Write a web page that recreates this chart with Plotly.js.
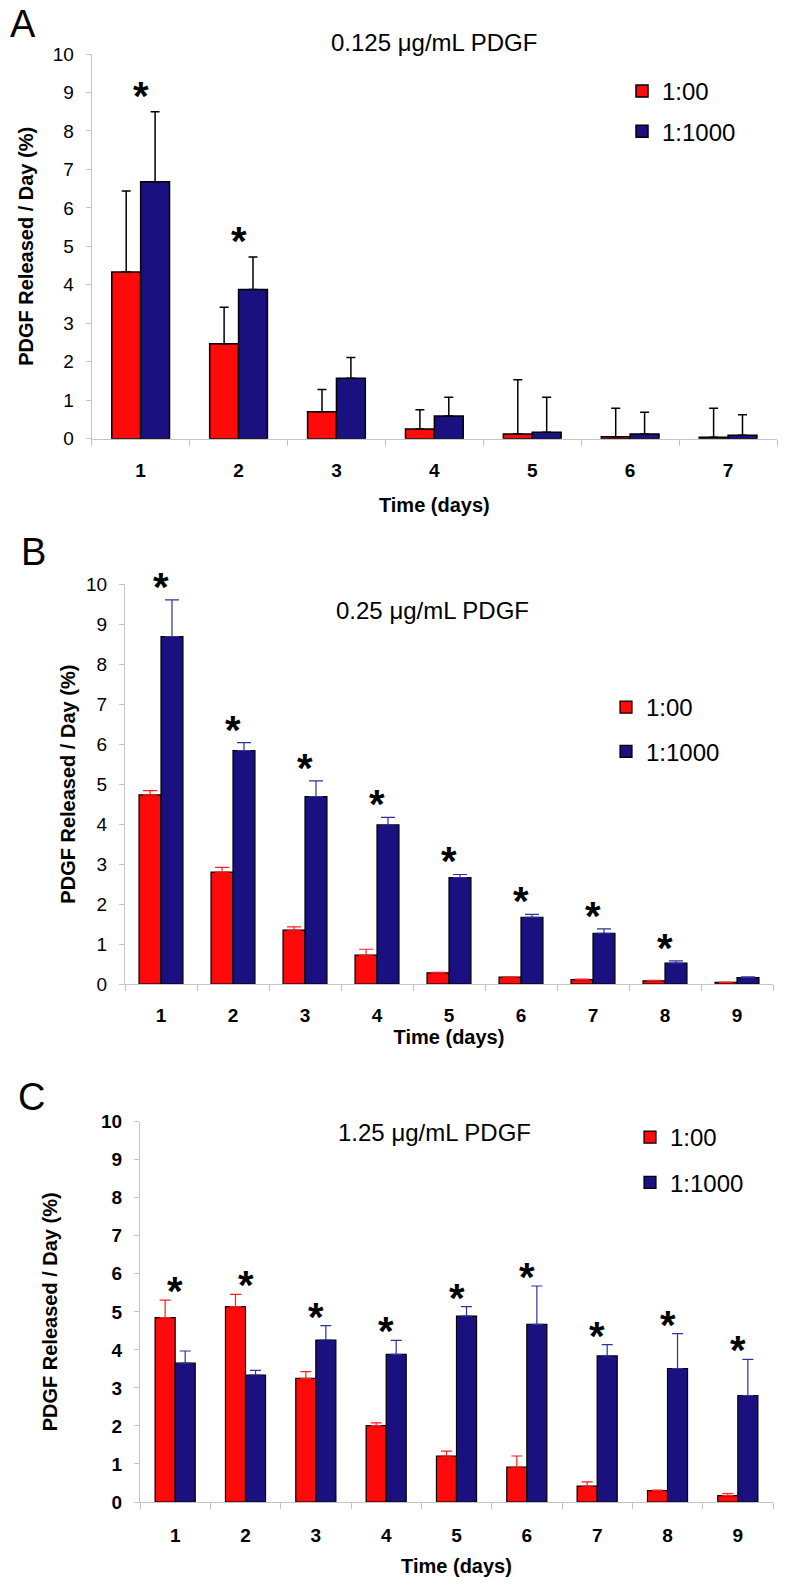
<!DOCTYPE html>
<html>
<head>
<meta charset="utf-8">
<script src="https://cdn.plot.ly/plotly-3.0.1.min.js"></script>
<style>html,body{margin:0;padding:0;background:#fff;}#chart{width:787px;height:1593px;}</style>
</head>
<body>
<div id="chart"></div>
<script>
// ---------- data ----------
const daysA = ['1','2','3','4','5','6','7'];
const daysBC = ['1','2','3','4','5','6','7','8','9'];
const seriesNames = ['1:00', '1:1000'];

// Panel A: 0.125 µg/mL PDGF
const titleA = '0.125 μg/mL PDGF';
const redA  = [4.33, 2.47, 0.70, 0.25, 0.12, 0.05, 0.04];
const redErrA = [2.11, 0.95, 0.58, 0.50, 1.41, 0.74, 0.75];
const blueA = [6.68, 3.88, 1.57, 0.59, 0.17, 0.12, 0.09];
const blueErrA = [1.82, 0.84, 0.54, 0.49, 0.91, 0.57, 0.53];
const sigA = [1, 1, 0, 0, 0, 0, 0];

// Panel B: 0.25 µg/mL PDGF
const titleB = '0.25 μg/mL PDGF';
const redB  = [4.73, 2.80, 1.35, 0.72, 0.28, 0.17, 0.11, 0.08, 0.04];
const redErrB = [0.11, 0.12, 0.08, 0.15, 0.01, 0.01, 0.01, 0.01, 0.01];
const blueB = [8.69, 5.84, 4.69, 3.98, 2.66, 1.67, 1.27, 0.52, 0.16];
const blueErrB = [0.92, 0.20, 0.39, 0.19, 0.08, 0.07, 0.11, 0.06, 0.02];
const sigB = [1, 1, 1, 1, 1, 1, 1, 1, 0];

// Panel C: 1.25 µg/mL PDGF
const titleC = '1.25 μg/mL PDGF';
const redC  = [4.85, 5.14, 3.25, 2.01, 1.21, 0.92, 0.42, 0.30, 0.17];
const redErrC = [0.46, 0.32, 0.18, 0.07, 0.13, 0.29, 0.11, 0.01, 0.05];
const blueC = [3.65, 3.34, 4.26, 3.88, 4.89, 4.67, 3.84, 3.51, 2.80];
const blueErrC = [0.32, 0.12, 0.38, 0.37, 0.25, 1.01, 0.30, 0.92, 0.95];
const sigC = [1, 1, 1, 1, 1, 1, 1, 1, 1];

const yTitle = 'PDGF Released / Day (%)';
const xTitle = 'Time (days)';
const yTicks = [0,1,2,3,4,5,6,7,8,9,10];

// ---------- style ----------
const FONT = 'Arial, "Liberation Sans", Helvetica, sans-serif';
const RED = '#ff0a0a';
const BLUE = '#1b1080';
const ERR_RED = '#ff2020';
const ERR_BLUE = '#3030a0';
const W = 787, H = 1593;
const px = v => v / W;
const py = v => 1 - v / H;

function panelTraces(cats, red, redErr, blue, blueErr, xa, ya, legendId, width, errColors, errThick, errCap, lineW) {
  const zeros = cats.map(() => 0);
  const common = {type: 'bar', x: cats, xaxis: xa, yaxis: ya, width: width, legend: legendId, hoverinfo: 'skip'};
  return [
    Object.assign({}, common, {
      name: seriesNames[0], y: red, offset: -width, legendgroup: legendId + 'r',
      marker: {color: RED, line: {color: '#000', width: lineW}},
      error_y: {type: 'data', symmetric: false, array: redErr, arrayminus: zeros, color: errColors[0], thickness: errThick, width: errCap}
    }),
    Object.assign({}, common, {
      name: seriesNames[1], y: blue, offset: 0, legendgroup: legendId + 'b',
      marker: {color: BLUE, line: {color: '#000', width: lineW}},
      error_y: {type: 'data', symmetric: false, array: blueErr, arrayminus: zeros, color: errColors[1], thickness: errThick, width: errCap}
    })
  ];
}

const data = [].concat(
  panelTraces(daysA, redA, redErrA, blueA, blueErrA, 'x', 'y', 'legend', 0.295, ['#000', '#000'], 1.5, 4.5, 1.5),
  panelTraces(daysBC, redB, redErrB, blueB, blueErrB, 'x2', 'y2', 'legend2', 0.305, [ERR_RED, ERR_BLUE], 1.2, 7, 1.2),
  panelTraces(daysBC, redC, redErrC, blueC, blueErrC, 'x3', 'y3', 'legend3', 0.285, [ERR_RED, ERR_BLUE], 1.2, 5.5, 1.2)
);

function xAxis(domain, anchor, standoff, titleStandoff, tickSize) {
  return {
    domain: domain, anchor: anchor, type: 'category',
    showline: true, linecolor: '#c4c4c4', linewidth: 1,
    ticks: 'outside', tickson: 'boundaries', ticklen: 6, tickcolor: '#c4c4c4',
    tickfont: {family: FONT, size: tickSize, color: '#000', weight: 'bold'},
    ticklabelstandoff: standoff,
    showgrid: false, zeroline: false, fixedrange: true,
    title: {text: xTitle, font: {family: FONT, size: 20, color: '#000', weight: 'bold'}, standoff: titleStandoff}
  };
}
function yAxis(domain, anchor, bold, titleStandoff) {
  return {
    domain: domain, anchor: anchor, range: [0, 10], tickvals: yTicks,
    showline: true, linecolor: '#c4c4c4', linewidth: 1,
    ticks: 'outside', ticklen: 5, tickcolor: '#c4c4c4',
    tickfont: {family: FONT, size: 19, color: '#000', weight: bold ? 'bold' : 'normal'},
    ticklabelstandoff: 8,
    showgrid: false, zeroline: false, fixedrange: true,
    title: {text: yTitle, font: {family: FONT, size: 20, color: '#000', weight: 'bold'}, standoff: titleStandoff}
  };
}

// significance stars, placed at the category index above the taller error bar
function starAnnotations(cats, red, redErr, blue, blueErr, sig, xa, ya, shift) {
  const out = [];
  cats.forEach((c, i) => {
    if (!sig[i]) return;
    const top = Math.max(red[i] + redErr[i], blue[i] + blueErr[i]);
    out.push({xref: xa, yref: ya, x: i, y: top, text: '*', showarrow: false,
      xanchor: 'center', yanchor: 'bottom', yshift: shift,
      font: {family: FONT, size: 40, color: '#000', weight: 'bold'}});
  });
  return out;
}

function label(text, x, y, size) {
  return {xref: 'paper', yref: 'paper', x: px(x), y: py(y), text: text, showarrow: false,
    xanchor: 'center', yanchor: 'middle', font: {family: FONT, size: size, color: '#000'}};
}

const annotations = [].concat(
  [label('A', 23, 24, 38), label('B', 33, 552, 38), label('C', 31, 1097, 38)],
  [label(titleA, 434, 43, 24), label(titleB, 432, 610, 24), label(titleC, 434, 1132, 24)],
  starAnnotations(daysA, redA, redErrA, blueA, blueErrA, sigA, 'x', 'y', -8),
  starAnnotations(daysBC, redB, redErrB, blueB, blueErrB, sigB, 'x2', 'y2', -11),
  starAnnotations(daysBC, redC, redErrC, blueC, blueErrC, sigC, 'x3', 'y3', -15)
);

function legendAt(x, y, gap) {
  return {x: px(x), y: py(y), xanchor: 'left', yanchor: 'top', bgcolor: 'rgba(0,0,0,0)', borderwidth: 0,
    traceorder: 'grouped', tracegroupgap: gap, itemclick: false, itemdoubleclick: false,
    font: {family: FONT, size: 24, color: '#000'}};
}

const layout = {
  width: W, height: H,
  margin: {l: 0, r: 0, t: 0, b: 0},
  paper_bgcolor: '#fff', plot_bgcolor: '#fff',
  font: {family: FONT, color: '#000'},
  barmode: 'group',
  showlegend: true,
  xaxis: xAxis([px(91.7), px(777)], 'y', 14, 18, 19),
  yaxis: yAxis([py(438.7), py(54)], 'x', false, 13),
  xaxis2: xAxis([px(125), px(773)], 'y2', 14, 3, 19),
  yaxis2: yAxis([py(984), py(584.3)], 'x2', false, 5),
  xaxis3: xAxis([px(140), px(773)], 'y3', 16, 14, 19),
  yaxis3: yAxis([py(1502), py(1121.7)], 'x3', true, 38),
  legend: legendAt(622, 69, 6),
  legend2: legendAt(606, 685, 10),
  legend3: legendAt(630, 1115, 11),
  annotations: annotations
};

Plotly.newPlot('chart', data, layout, {staticPlot: true, displayModeBar: false});
</script>
</body>
</html>
